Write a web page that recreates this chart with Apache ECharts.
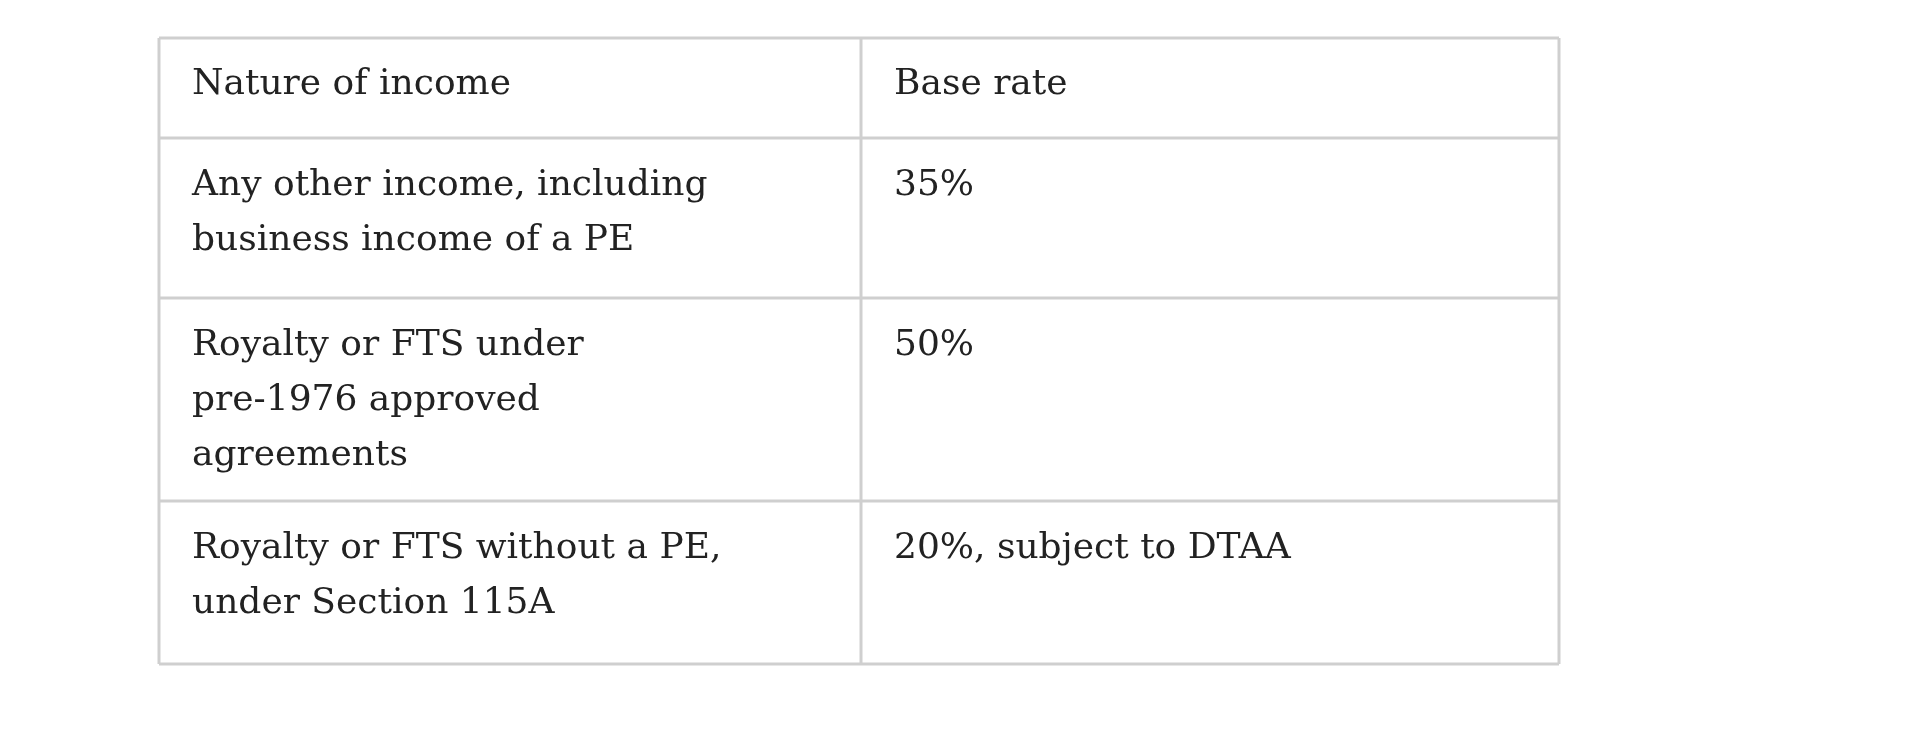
<!DOCTYPE html>
<html><head><meta charset="utf-8">
<script src="https://cdn.jsdelivr.net/npm/echarts@6/dist/echarts.min.js"></script>
<style>html,body{margin:0;background:#fff}#c{width:1920px;height:749px}</style>
</head><body><div id="c"></div>
<script>
const headers = ["Nature of income", "Base rate"];
const natureCol = [
  "Any other income, including\nbusiness income of a PE",
  "Royalty or FTS under\npre-1976 approved\nagreements",
  "Royalty or FTS without a PE,\nunder Section 115A"
];
const rateCol = ["35%", "50%", "20%, subject to DTAA"];

const chart = echarts.init(document.getElementById('c'));
const colX = [159, 861, 1559];
const rowY = [38, 138, 298, 501, 664];
const lh = 55;
const els = [];
const stroke = {stroke:'#cfcfcf', lineWidth:3};
rowY.forEach(y => els.push({type:'line', shape:{x1:colX[0], y1:y, x2:colX[2], y2:y}, style:stroke}));
colX.forEach(x => els.push({type:'line', shape:{x1:x, y1:rowY[0], x2:x, y2:rowY[4]}, style:stroke}));
const font = {fontFamily:'DejaVu Serif', fontSize:36, fill:'#222', lineHeight:lh};
const rows = [headers].concat(natureCol.map((n,i)=>[n, rateCol[i]]));
rows.forEach((r,i) => {
  const y = i === 0 ? 85 - lh/2 : rowY[i] + 20;
  r.forEach((t,j) => els.push({type:'text', x: colX[j] + 33, y: y,
    style: Object.assign({text:t, textVerticalAlign:'top', textAlign:'left'}, font)}));
});
chart.setOption({graphic:{elements:els}});
</script></body></html>
